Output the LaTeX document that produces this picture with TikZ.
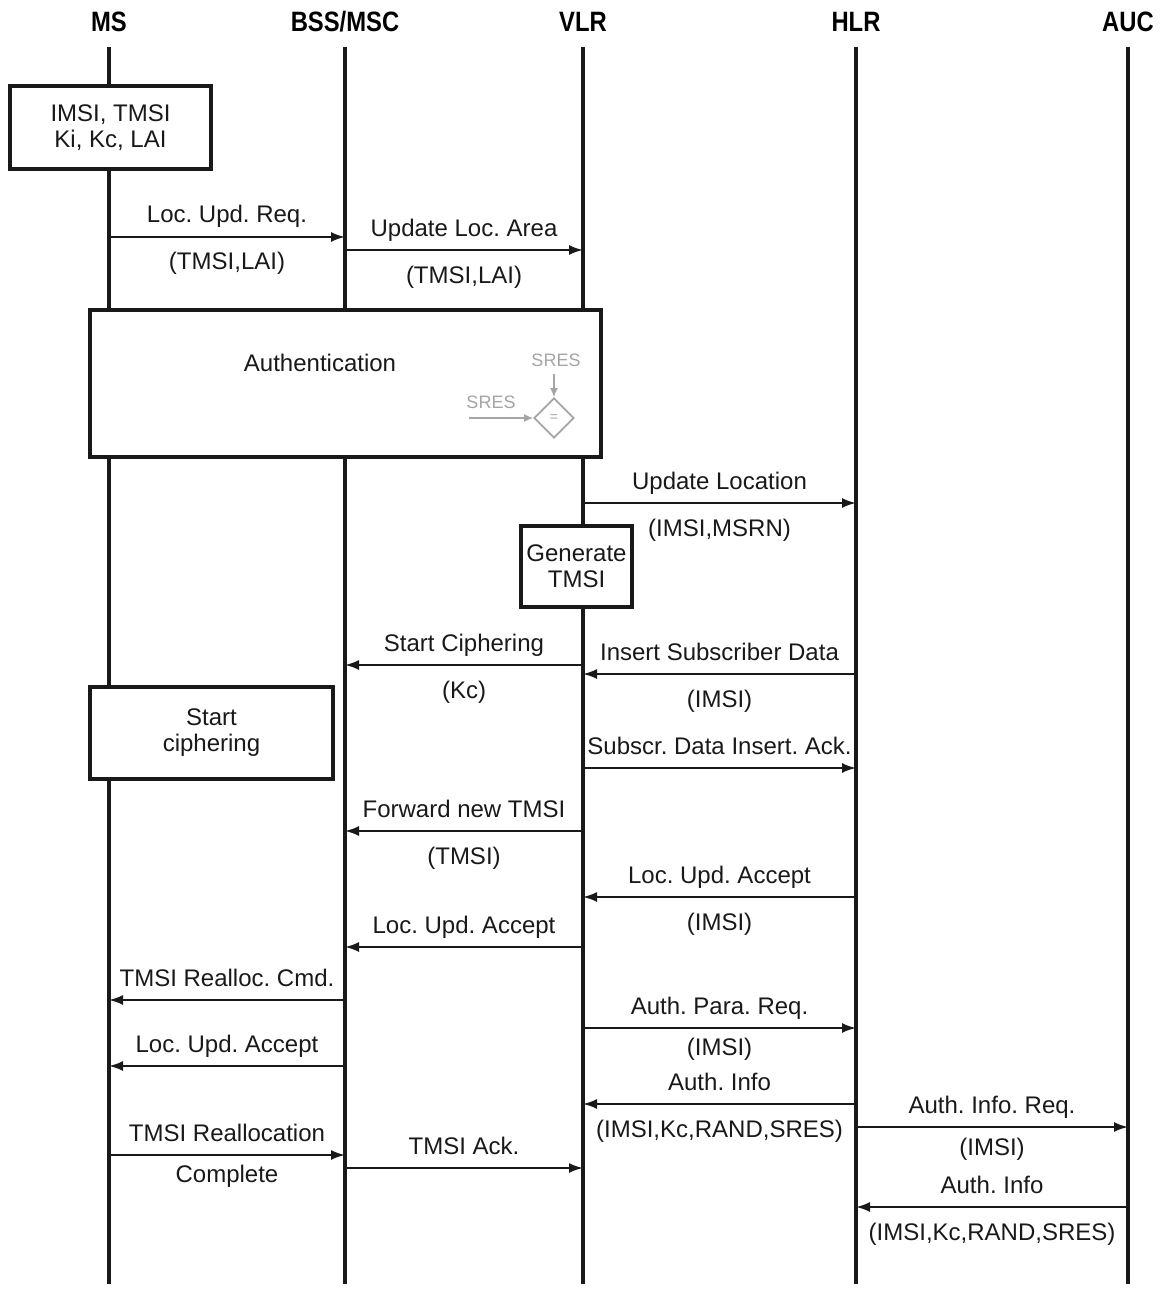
\documentclass[tikz,border=0pt]{standalone}
\usepackage{fontspec}
\setmainfont{Liberation Sans}
\newfontfamily\headfont[FakeStretch=0.85]{Liberation Sans}
\usetikzlibrary{arrows.meta, positioning, calc, shapes.geometric}
\definecolor{LineBlack}{RGB}{25,25,25}
\definecolor{SresGray}{RGB}{165,165,165}
\frenchspacing
\tikzset{
  x=0.5pt, y=-0.5pt,
  % entities and lifelines
  head/.style={font=\headfont\bfseries\fontsize{14}{14}\selectfont, inner sep=0, anchor=base},
  lifeline/.style={line width=1.6pt, LineBlack},
  % messages
  msg/.style={-{Latex[length=7pt,width=5pt]}, line width=1pt, LineBlack},
  lbl/.style={font=\fontsize{12}{12}\selectfont, inner sep=0, anchor=base, text=LineBlack},
  % process boxes
  proc box/.style={draw=LineBlack, line width=1.6pt, fill=white, align=center, inner sep=0,
    font=\fontsize{12}{13}\selectfont, text=LineBlack},
  sres/.style={SresGray, font=\fontsize{9}{9}\selectfont, inner sep=0},
  sres arrow/.style={-{Latex[length=4.5pt,width=4pt]}, SresGray, line width=0.7pt}
}
% \msg[below shift]{id}{from}{to}{y}{text above}{text below}
\newcommand{\msg}[7][-16.5pt]{%
  \draw[msg] (#3 |- 0,#5) -- (#4 |- 0,#5)
    node[lbl, midway, yshift=7pt] (#2a) {#6};
  \if\relax\detokenize{#7}\relax\else
    \path (#3 |- 0,#5) -- (#4 |- 0,#5) node[lbl, midway, yshift=#1] (#2b) {#7};
  \fi}

\begin{document}
\begin{tikzpicture}
  \useasboundingbox (0,0) rectangle (1161,1289);
  % entities
  \node[head] (ms)  at (109,32) {MS};
  \node[head] (bss) at (345,32) {BSS/MSC};
  \node[head] (vlr) at (583,32) {VLR};
  \node[head] (hlr) at (856,32) {HLR};
  \node[head] (auc) at (1128,32) {AUC};
  % lifelines
  \foreach \e in {ms,bss,vlr,hlr,auc}
    \draw[lifeline] (\e |- 0,47) coordinate (\e top) -- (\e |- 0,1284) coordinate (\e end);

  % process boxes
  \node[proc box, minimum width=100.5pt, minimum height=41.5pt] (subdata) at (110.5,127.5)
    {IMSI, TMSI\\Ki, Kc, LAI};
  \node[proc box, minimum width=255.5pt, minimum height=73.5pt] (auth) at (345.5,383.5) {};
  \node[lbl, anchor=center] (authtxt) at (320,363) {Authentication};
  \node[proc box, minimum width=55.5pt, minimum height=40.5pt] (gentmsi) at (576.5,566.5)
    {Generate\\TMSI};
  \node[proc box, minimum width=121.5pt, minimum height=46pt] (startciph) at (211.5,733)
    {Start\\ciphering};

  % SRES comparison
  \node[draw=SresGray, line width=0.9pt, diamond, minimum size=20pt, inner sep=0] (cmp) at (554,418) {};
  \node[SresGray, font=\fontsize{7}{7}\selectfont, inner sep=0] (eq) at (cmp) {=};
  \node[sres] (sresa) at (556,360) {SRES};
  \node[sres] (sresb) at (491,402) {SRES};
  \coordinate (sresin) at (469,418);
  \draw[sres arrow] (cmp.north |- 0,374) -- (cmp.north);
  \draw[sres arrow] (sresin) -- (cmp.west);

  % messages
  \msg{m1}{ms}{bss}{237}{Loc. Upd. Req.}{(TMSI,LAI)}
  \msg{m2}{bss}{vlr}{250}{Update Loc. Area}{(TMSI,LAI)}
  \msg{m3}{vlr}{hlr}{503}{Update Location}{(IMSI,MSRN)}
  \msg{m4}{vlr}{bss}{665}{Start Ciphering}{(Kc)}
  \msg{m5}{hlr}{vlr}{674}{Insert Subscriber Data}{(IMSI)}
  \msg{m6}{vlr}{hlr}{768}{Subscr. Data Insert. Ack.}{}
  \msg{m7}{vlr}{bss}{831}{Forward new TMSI}{(TMSI)}
  \msg{m8}{hlr}{vlr}{897}{Loc. Upd. Accept}{(IMSI)}
  \msg{m9}{vlr}{bss}{947}{Loc. Upd. Accept}{}
  \msg{m10}{bss}{ms}{1000}{TMSI Realloc. Cmd.}{}
  \msg[-13.5pt]{m11}{vlr}{hlr}{1028}{Auth. Para. Req.}{(IMSI)}
  \msg{m12}{bss}{ms}{1066}{Loc. Upd. Accept}{}
  \msg{m13}{hlr}{vlr}{1104}{Auth. Info}{(IMSI,Kc,RAND,SRES)}
  \msg[-14pt]{m14}{hlr}{auc}{1127}{Auth. Info. Req.}{(IMSI)}
  \msg[-13.5pt]{m15}{ms}{bss}{1155}{TMSI Reallocation}{Complete}
  \msg{m16}{bss}{vlr}{1168}{TMSI Ack.}{}
  \msg{m17}{auc}{hlr}{1207}{Auth. Info}{(IMSI,Kc,RAND,SRES)}
\end{tikzpicture}
\end{document}
